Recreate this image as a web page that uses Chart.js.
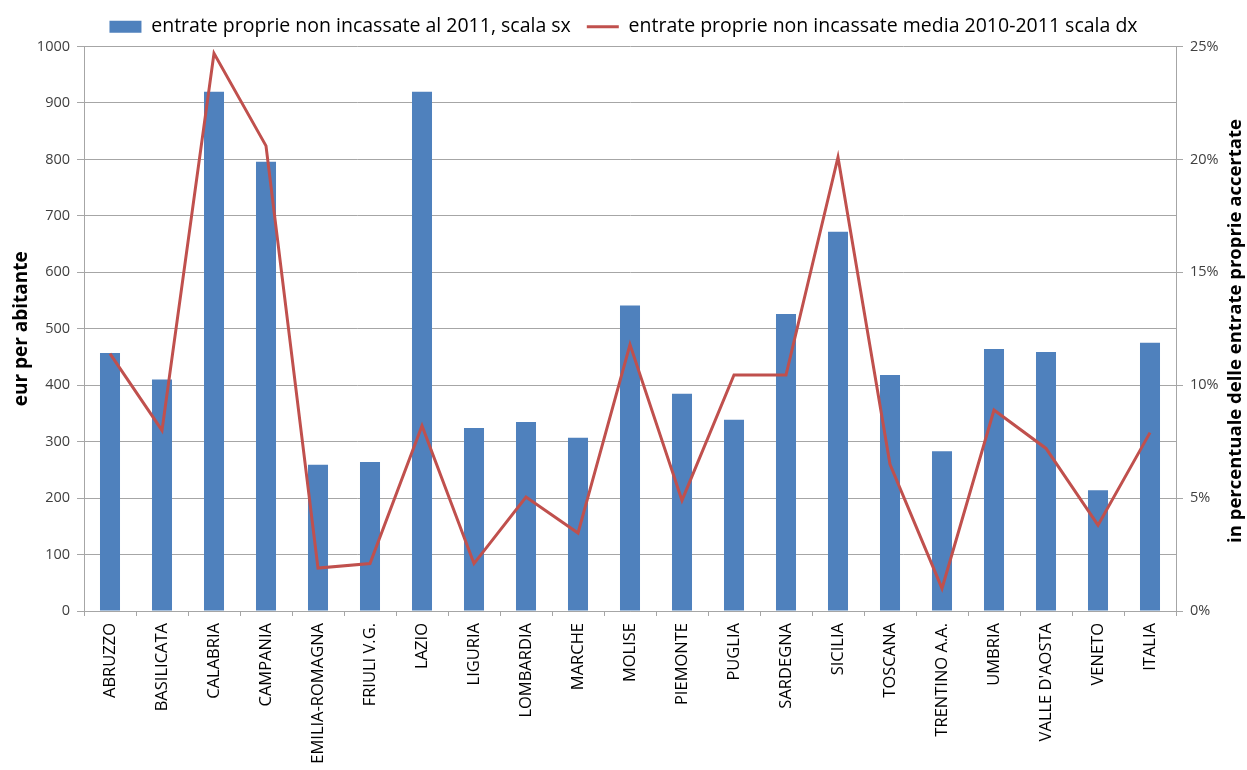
<!DOCTYPE html>
<html>
<head>
<meta charset="utf-8">
<script src="https://cdn.jsdelivr.net/npm/chart.js@4/dist/chart.umd.min.js"></script>
<style>
  html, body { margin: 0; padding: 0; background: #fff; }
  #wrap { width: 1247px; height: 770px; }
</style>
</head>
<body>
<div id="wrap"><canvas id="myChart" width="1247" height="770"></canvas></div>
<script>
const regions = ['ABRUZZO', 'BASILICATA', 'CALABRIA', 'CAMPANIA', 'EMILIA-ROMAGNA', 'FRIULI V.G.',
  'LAZIO', 'LIGURIA', 'LOMBARDIA', 'MARCHE', 'MOLISE', 'PIEMONTE', 'PUGLIA', 'SARDEGNA',
  'SICILIA', 'TOSCANA', 'TRENTINO A.A.', 'UMBRIA', "VALLE D'AOSTA", 'VENETO', 'ITALIA'];

// eur per abitante (scala sx)
const nonIncassate2011 = [457, 410, 920, 796, 259, 264, 920, 324, 335, 307, 541, 385, 339, 526,
  672, 418, 283, 464, 459, 214, 475];

// % delle entrate proprie accertate (scala dx)
const mediaPct = [11.4, 8.0, 24.7, 20.6, 1.9, 2.1, 8.2, 2.1, 5.05, 3.45, 11.8, 4.9, 10.45, 10.45,
  20.1, 6.5, 1.0, 8.9, 7.2, 3.8, 7.9];

const leftTitle = 'eur per abitante';
const rightTitle = 'in percentuale delle entrate proprie accertate';

const gridColor = '#a6a6a6';
const tickFont = { family: "'Open Sans', 'DejaVu Sans', sans-serif", size: 14.5 };

// right title reads bottom-to-top like the left one
const rightTitlePlugin = {
  id: 'rightTitle',
  afterDraw(chart) {
    const ctx = chart.ctx;
    ctx.save();
    ctx.translate(1236, 331);
    ctx.rotate(-Math.PI / 2);
    ctx.font = "bold 18.5px 'Open Sans', 'DejaVu Sans', sans-serif";
    ctx.fillStyle = '#000';
    ctx.textAlign = 'center';
    ctx.textBaseline = 'middle';
    ctx.fillText(rightTitle, 0, 0);
    ctx.restore();
  }
};

const ctx = document.getElementById('myChart').getContext('2d');
const myChart = new Chart(ctx, {
  type: 'bar',
  data: {
    labels: regions,
    datasets: [{
      type: 'line',
      label: 'entrate proprie non incassate media 2010-2011 scala dx',
      data: mediaPct,
      yAxisID: 'y2',
      borderColor: '#c0504d',
      backgroundColor: '#c0504d',
      borderWidth: 3,
      pointRadius: 0,
      pointStyle: 'line',
      tension: 0,
      order: 0
    }, {
      label: 'entrate proprie non incassate al 2011, scala sx',
      data: nonIncassate2011,
      yAxisID: 'y',
      backgroundColor: '#4f81bd',
      borderWidth: 0,
      pointStyle: 'rect',
      barPercentage: 0.385,
      categoryPercentage: 1.0,
      order: 1
    }]
  },
  options: {
    responsive: false,
    animation: false,
    layout: { padding: { top: 1 } },
    plugins: {
      tooltip: { enabled: false },
      legend: {
        position: 'top',
        reverse: true,
        labels: {
          usePointStyle: true,
          pointStyleWidth: 32,
          boxHeight: 12,
          color: '#000',
          padding: 16,
          font: { family: "'Liberation Sans Narrow', 'Open Sans', sans-serif", size: 19.5 }
        }
      }
    },
    scales: {
      x: {
        offset: true,
        grid: { offset: true, drawOnChartArea: false, drawTicks: true, tickLength: 5, color: gridColor },
        border: { color: gridColor },
        ticks: { color: '#000', font: { family: "'Open Sans', 'DejaVu Sans', sans-serif", size: 16.5 }, padding: 7, maxRotation: 90, minRotation: 90, autoSkip: false },
        afterFit(scale) { scale.height = 159; }
      },
      y: {
        position: 'left',
        min: 0, max: 1000,
        ticks: { stepSize: 100, color: '#404040', font: tickFont, padding: 7, callback: v => String(v) },
        grid: { color: gridColor, tickLength: 7 },
        border: { color: gridColor },
        title: { display: true, text: leftTitle, color: '#000', font: { family: "'Open Sans', 'DejaVu Sans', sans-serif", size: 19, weight: 'bold' }, padding: { top: 10, bottom: 0 } },
        afterFit(scale) { scale.width = 84; }
      },
      y2: {
        position: 'right',
        min: 0, max: 25,
        ticks: { stepSize: 5, color: '#404040', font: tickFont, padding: 7, callback: v => v + '%' },
        grid: { drawOnChartArea: false, color: gridColor, tickLength: 7 },
        border: { color: gridColor },
        afterFit(scale) { scale.width = 71; }
      }
    }
  },
  plugins: [rightTitlePlugin]
});
</script>
</body>
</html>
